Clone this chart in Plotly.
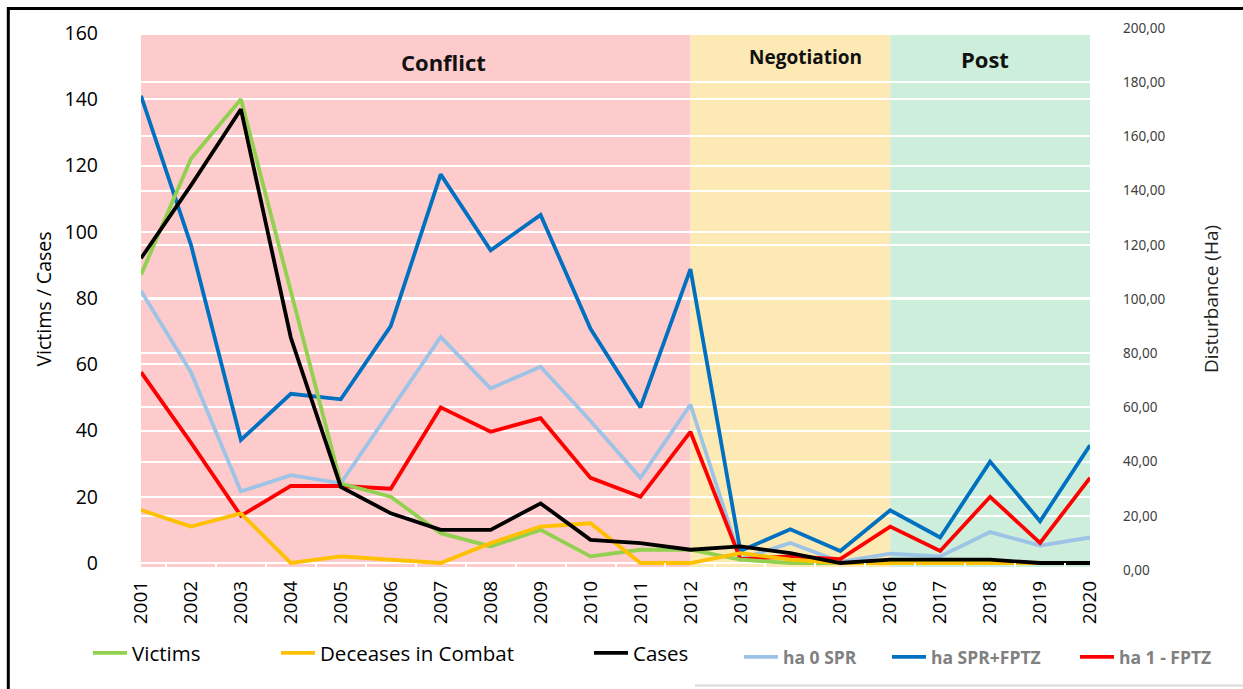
import plotly.graph_objects as go

# ---- data ----
years = list(range(2001, 2021))

victims = [87, 122, 140, 82, 24, 20, 9, 5, 10, 2, 4, 4, 1, 0, 0, 0, 0, 0, 0, 0]
deceases_in_combat = [16, 11, 15, 0, 2, 1, 0, 6, 11, 12, 0, 0, 3, 1, 0, 0, 0, 0, 0, 0]
cases = [92, 114, 137, 68, 23, 15, 10, 10, 18, 7, 6, 4, 5, 3, 0, 1, 1, 1, 0, 0]

ha_0_spr = [103, 73, 29, 35, 32, 59, 86, 67, 75, 55, 34, 61, 4, 10, 3, 6, 5, 14, 9, 12]
ha_spr_fptz = [175, 120, 48, 65, 63, 90, 146, 118, 131, 89, 60, 111, 7, 15, 7, 22, 12, 40, 18, 46]
ha_1_fptz = [73, 47, 20, 31, 31, 30, 60, 51, 56, 34, 27, 51, 4, 5, 4, 16, 7, 27, 10, 34]

phase_names = ["Conflict", "Negotiation", "Post"]
phase_start = [2001, 2012, 2016]
phase_end = [2012, 2016, 2020]

left_ticks = [0, 20, 40, 60, 80, 100, 120, 140, 160]
right_ticks = [0, 20, 40, 60, 80, 100, 120, 140, 160, 180, 200]
right_tick_text = [f"{v},00" for v in right_ticks]

# ---- styling ----
phase_fill = ["#fdcbcb", "#fde9b3", "#cdeedb"]
phase_label_x = [2007.05, 2014.3, 2017.9]
phase_label_y = [0.937, 0.946, 0.943]
phase_label_size = [22, 19, 22]

LEFT_FONT = "Open Sans"
W, H = 1243, 689
ML, MR, MT, MB = 141, 153, 28, 119
PW, PH = W - ML - MR, H - MT - MB


def px_x(px):
    return (px - ML) / PW


def px_y(py):
    return (H - MB - py) / PH


fig = go.Figure()

# hectare series (right axis)
ha_series = [
    ("ha 0 SPR", ha_0_spr, "#9dc3e6", "legend4", 739),
    ("ha SPR+FPTZ", ha_spr_fptz, "#0070c0", "legend5", 887),
    ("ha 1 - FPTZ", ha_1_fptz, "#ff0000", "legend6", 1075),
]
for name, vals, color, leg, _ in ha_series:
    fig.add_trace(go.Scatter(x=years, y=vals, name=name, mode="lines",
                             line=dict(color=color, width=3.8),
                             yaxis="y", legend=leg, showlegend=True))

# counts (left axis)
count_series = [
    ("Victims", victims, "#92d050", "legend", 88),
    ("Deceases in Combat", deceases_in_combat, "#ffc000", "legend2", 276),
    ("Cases", cases, "#000000", "legend3", 589),
]
for name, vals, color, leg, _ in count_series:
    fig.add_trace(go.Scatter(x=years, y=vals, name=name, mode="lines",
                             line=dict(color=color, width=3.8),
                             yaxis="y2", legend=leg, showlegend=True))

# phase bands and labels
shapes = []
annotations = []
for name, x0, x1, fill, lx, ly, fs in zip(phase_names, phase_start, phase_end, phase_fill,
                                          phase_label_x, phase_label_y, phase_label_size):
    shapes.append(dict(type="rect", xref="x", yref="paper", x0=x0, x1=x1,
                       y0=px_y(567), y1=px_y(35), fillcolor=fill,
                       line=dict(width=0), layer="below"))
    annotations.append(dict(text=f"<b>{name}</b>", x=lx, y=ly, xref="x", yref="paper",
                            showarrow=False, xanchor="center", yanchor="middle",
                            font=dict(family=LEFT_FONT, size=fs, color="#111111")))

# outer frame and legend box edge
shapes.append(dict(type="rect", xref="paper", yref="paper",
                   x0=px_x(8.3), x1=px_x(1300), y0=px_y(760), y1=px_y(8.5),
                   line=dict(color="black", width=3), fillcolor="rgba(0,0,0,0)",
                   layer="above"))
shapes.append(dict(type="line", xref="paper", yref="paper",
                   x0=px_x(695), x1=px_x(1300), y0=px_y(685.5), y1=px_y(685.5),
                   line=dict(color="#d9d9d9", width=2)))

legend_left = dict(orientation="h", xanchor="left", yanchor="middle",
                   bgcolor="rgba(0,0,0,0)", borderwidth=0, itemwidth=34,
                   font=dict(family=LEFT_FONT, size=20.5, color="black"))
legend_right = dict(orientation="h", xanchor="left", yanchor="middle",
                    bgcolor="rgba(0,0,0,0)", borderwidth=0, itemwidth=34,
                    font=dict(family="Open Sans", size=17.5, color="#808080", weight="bold"))

legends = {}
for name, _, _, leg, lx in count_series:
    legends[leg] = dict(legend_left, x=px_x(lx), y=px_y(653))
for name, _, _, leg, lx in ha_series:
    legends[leg] = dict(legend_right, x=px_x(lx), y=px_y(657))

fig.update_layout(
    width=W, height=H, autosize=False, showlegend=True,
    margin=dict(l=ML, r=MR, t=MT, b=MB),
    paper_bgcolor="white", plot_bgcolor="white",
    shapes=shapes, annotations=annotations,
    xaxis=dict(range=[2001, 2020], tickvals=years, ticktext=[str(y) for y in years],
               tickangle=-90, showgrid=False, zeroline=False, showline=False,
               ticks="", ticklabelstandoff=6,
               tickfont=dict(family=LEFT_FONT, size=19, color="black"),
               minor=dict(ticks="inside", tick0=2001.5, dtick=1, ticklen=7,
                          tickwidth=2, tickcolor="white", showgrid=False)),
    yaxis=dict(side="right", range=[0, 200], tickvals=right_ticks, ticktext=right_tick_text,
               showgrid=True, gridcolor="white", gridwidth=2, zeroline=False,
               showline=False, ticks="", ticklabelstandoff=32,
               tickfont=dict(family="Noto Sans", size=13.5, color="#404040"),
               title=dict(text="Disturbance (Ha)", standoff=40,
                          font=dict(family=LEFT_FONT, size=19, color="#222222"))),
    yaxis2=dict(overlaying="y", side="left", range=[-7 * 160 / 530, 160 + 5 * 160 / 530],
                tickvals=left_ticks, showgrid=True, gridcolor="white", gridwidth=2,
                zeroline=False, showline=False, ticks="", ticklabelstandoff=42,
                tickfont=dict(family=LEFT_FONT, size=19.5, color="black"),
                title=dict(text="Victims / Cases", standoff=7,
                           font=dict(family=LEFT_FONT, size=19.5, color="black"))),
    **legends,
)

fig.write_html("out.html")
